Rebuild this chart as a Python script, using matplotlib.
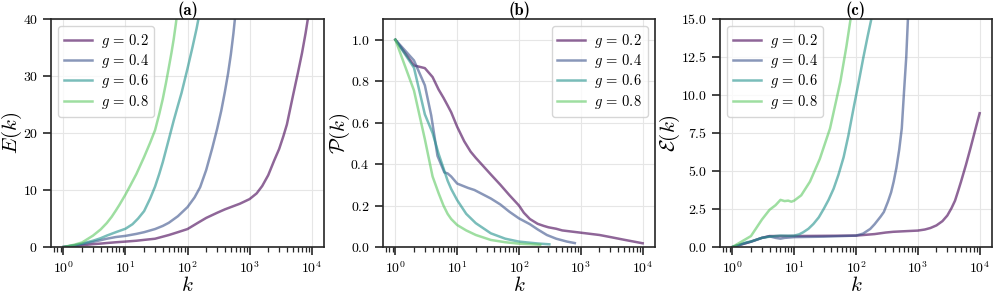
import numpy as np
import matplotlib
matplotlib.use('Agg')
import matplotlib.pyplot as plt
from matplotlib.ticker import MultipleLocator

plt.rcParams['font.family'] = 'serif'
plt.rcParams['font.serif'] = ['cmr10']
plt.rcParams['mathtext.fontset'] = 'cm'
plt.rcParams['axes.formatter.use_mathtext'] = True
plt.rcParams['axes.unicode_minus'] = False

g_labels = [r'$g\,=\,0.2$', r'$g\,=\,0.4$', r'$g\,=\,0.6$', r'$g\,=\,0.8$']

# (a) E(k)
ea_k02 = [1, 1.5, 2, 3, 4, 5, 7, 10, 15, 20, 30, 50, 70, 100, 150, 200, 300, 400, 500, 700,
          1000, 1300, 1600, 2000, 2500, 3000, 3500, 4000, 5000, 6000, 7000, 8000, 9000, 10000]
ea_v02 = [0, 0.15, 0.3, 0.5, 0.6, 0.7, 0.83, 0.95, 1.1, 1.25, 1.45, 2.1, 2.6, 3.15, 4.3, 5.1, 6.0, 6.6, 7.0, 7.6,
          8.4, 9.4, 10.7, 12.6, 15.2, 17.2, 19.4, 21.5, 26.5, 30.5, 34, 37.5, 41, 44.5]
ea_k04 = [1, 1.5, 2, 3, 4, 5, 7, 10, 15, 20, 30, 40, 50, 70, 100, 130, 160, 200, 250, 300,
          350, 400, 450, 500, 550, 600, 650]
ea_v04 = [0, 0.3, 0.5, 0.9, 1.2, 1.45, 1.75, 1.95, 2.3, 2.6, 3.15, 3.7, 4.25, 5.4, 7.0, 8.7, 10.5, 13.5, 17.3, 20.7,
          23.9, 27.2, 30.4, 33.8, 37.5, 41.5, 46]
ea_k06 = [1, 1.5, 2, 3, 4, 5, 7, 10, 13, 16, 20, 25, 30, 35, 40, 50, 60, 70, 80, 100, 120, 140, 150, 170]
ea_v06 = [0, 0.3, 0.6, 1.1, 1.55, 2.0, 2.6, 3.2, 4.0, 5.0, 6.3, 8.5, 10.6, 12.8, 14.9, 18.9, 22.2, 24.8, 27.0, 31.3,
          35.0, 38.3, 40, 43.5]
ea_k08 = [1, 1.5, 2, 3, 4, 5, 6, 7, 8, 10, 12, 15, 20, 25, 30, 35, 40, 45, 50, 55, 60, 65, 70]
ea_v08 = [0, 0.4, 0.8, 2.0, 3.1, 4.2, 5.3, 6.4, 7.4, 9.2, 10.8, 12.8, 15.8, 18.3, 20.5, 23.3, 26, 28.8, 31.5, 34,
          36.5, 39.2, 42]

# (b) P(k)
pb_k02 = [1, 2, 3, 4, 5, 6, 7, 8, 10, 13, 16.5, 20, 35, 50, 70, 100, 120, 150, 200, 250, 300, 400,
          500, 1000, 2000, 3000, 5000, 10000]
pb_v02 = [1.0, 0.876, 0.863, 0.82, 0.76, 0.72, 0.683, 0.65, 0.58, 0.51, 0.46, 0.43, 0.35, 0.3, 0.25, 0.20, 0.165,
          0.135, 0.112, 0.102, 0.095, 0.088, 0.08, 0.069, 0.058, 0.048, 0.035, 0.018]
pb_k04 = [1, 2, 3, 3.8, 4.8, 6.2, 7, 8, 10, 15, 19, 35, 50, 70, 100, 150, 200, 282, 400, 600, 800]
pb_v04 = [1.0, 0.90, 0.78, 0.635, 0.44, 0.36, 0.355, 0.34, 0.306, 0.285, 0.275, 0.234, 0.205, 0.17, 0.138,
          0.11, 0.085, 0.058, 0.04, 0.026, 0.019]
pb_k06 = [1, 2, 3, 4, 5, 6, 7, 8, 10, 14, 20, 35, 60, 100, 200, 310]
pb_v06 = [1.0, 0.865, 0.64, 0.55, 0.45, 0.38, 0.32, 0.28, 0.226, 0.16, 0.115, 0.066, 0.04, 0.026, 0.017, 0.013]
pb_k08 = [1, 2, 3, 4, 5, 6, 7, 8, 10, 14, 20, 35, 60, 100, 220]
pb_v08 = [1.0, 0.755, 0.52, 0.34, 0.26, 0.2, 0.16, 0.135, 0.106, 0.08, 0.058, 0.034, 0.023, 0.016, 0.011]

# (c) script E(k)
ec_k02 = [1, 2, 3, 4, 10, 100, 200, 300, 400, 700, 1000, 1300, 1600, 2000, 2500, 3000, 3500, 4000, 4500,
          5000, 6000, 7000, 8000, 9000, 10000]
ec_v02 = [0, 0.35, 0.6, 0.72, 0.72, 0.75, 0.85, 0.95, 1.0, 1.05, 1.08, 1.15, 1.25, 1.42, 1.7, 2.07, 2.55, 3.05, 3.7,
          4.3, 5.4, 6.4, 7.3, 8.1, 8.8]
ec_k04 = [1, 2, 3, 4, 5, 6, 7, 10, 30, 100, 130, 170, 200, 250, 282, 330, 370, 407, 450, 500, 550, 600, 650, 690, 720]
ec_v04 = [0, 0.35, 0.6, 0.7, 0.6, 0.55, 0.6, 0.65, 0.68, 0.75, 0.88, 1.19, 1.5, 2.0, 2.3, 3.0, 3.6, 4.3, 5.2, 6.4,
          7.8, 10.3, 12.5, 14.9, 16.5]
ec_k06 = [1, 1.7, 2, 3, 4, 5, 6, 8, 10, 12, 14, 17, 20.5, 25, 30, 36, 43.5, 52, 63, 75, 91, 110, 132, 155, 175, 195]
ec_v06 = [0, 0.31, 0.36, 0.6, 0.68, 0.72, 0.75, 0.74, 0.75, 0.83, 0.97, 1.2, 1.52, 1.95, 2.5, 3.1, 3.84, 4.75,
          5.9, 7.3, 9.1, 10.8, 12.5, 13.9, 14.9, 16]
ec_k08 = [1, 2, 3, 4, 5, 6, 7, 8, 9, 10, 13, 18, 26, 38, 56, 70, 81, 90]
ec_v08 = [0, 0.72, 1.8, 2.45, 2.75, 3.1, 3.02, 3.05, 2.98, 3.05, 3.4, 4.3, 5.8, 7.8, 10.9, 13.2, 14.9, 16.2]

panels = [
    ('(a)', '$E(k)$', (0, 40), 10, [(ea_k02, ea_v02), (ea_k04, ea_v04), (ea_k06, ea_v06), (ea_k08, ea_v08)], 'upper left'),
    ('(b)', r'$\mathcal{P}(k)$', (0, 1.1), 0.2, [(pb_k02, pb_v02), (pb_k04, pb_v04), (pb_k06, pb_v06), (pb_k08, pb_v08)], 'upper right'),
    ('(c)', r'$\mathcal{E}(k)$', (0, 15), 2.5, [(ec_k02, ec_v02), (ec_k04, ec_v04), (ec_k06, ec_v06), (ec_k08, ec_v08)], 'upper left'),
]

colors = plt.cm.viridis(np.linspace(0, 0.75, 4))

fig = plt.figure(figsize=(9.96, 2.95), dpi=100)
rects = [[51 / 996, 48 / 295, 273 / 996, 228 / 295],
         [383 / 996, 48 / 295, 272 / 996, 228 / 295],
         [720 / 996, 48 / 295, 272 / 996, 228 / 295]]

for rect, (title, ylab, ylim, ystep, series, loc) in zip(rects, panels):
    ax = fig.add_axes(rect)
    for (k, v), c, lab in zip(series, colors, g_labels):
        ax.plot(k, v, color=c, alpha=0.6, lw=1.8, label=lab)
    ax.set_xscale('log')
    ax.set_xlim(10 ** -0.2, 10 ** 4.2)
    ax.set_ylim(*ylim)
    ax.yaxis.set_major_locator(MultipleLocator(ystep))
    ax.grid(True, which='major', color='#e6e6e6', lw=0.8)
    ax.set_axisbelow(True)
    ax.tick_params(which='both', direction='out', color='#262626', labelsize=10)
    ax.tick_params(which='major', length=6, width=1.2)
    ax.tick_params(which='minor', length=3.5, width=0.9)
    for s in ax.spines.values():
        s.set_color('#262626')
        s.set_linewidth(1.2)
    ax.set_xlabel('$k$', fontsize=15, labelpad=0)
    ax.set_ylabel(ylab, fontsize=15, labelpad=-1)
    ax.set_title(title, fontfamily='cmb10', fontsize=12, pad=3)
    ax.legend(loc=loc, fontsize=10.5, labelspacing=0.15, handlelength=1.9, handletextpad=0.6)

fig.savefig('out.png', dpi=100)
